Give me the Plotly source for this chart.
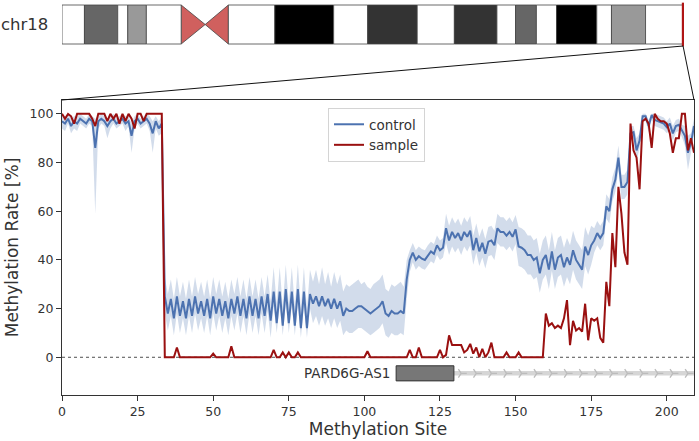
import plotly.graph_objects as go

# methylation window: one value per CpG site
site = list(range(210))

control_mean = [
    97, 96, 98, 95, 97, 96, 98, 97, 96, 98,
    97, 86, 97, 98, 97, 95, 97, 98, 96, 97,
    98, 96, 97, 91, 97, 98, 96, 97, 98, 96,
    92, 97, 94, 96, 25, 18, 24, 16, 25, 17,
    23, 16, 24, 17, 25, 18, 23, 17, 24, 16,
    25, 18, 24, 17, 23, 16, 24, 18, 25, 17,
    24, 16, 25, 17, 24, 16, 25, 17, 26, 15,
    27, 14, 27, 13, 28, 14, 27, 13, 28, 12,
    27, 12, 26, 22, 25, 21, 25, 21, 24, 20,
    24, 20, 23, 17, 20, 19, 19, 20, 21, 21,
    20, 19, 18, 19, 20, 21, 23, 18, 17, 19,
    18, 18, 19, 18, 32, 40, 43, 40, 41.5, 40.5,
    40, 42, 43.5, 42.5, 46, 44, 45, 53, 48, 51.5,
    49, 51, 48, 51.5, 49.5, 52, 44, 49, 43.5, 47,
    42.5, 47.5, 48, 46, 53, 51.5, 51.5, 50, 51.5, 49.5,
    52.5, 45.5, 45, 44, 42, 42, 40, 41, 34.5, 40,
    42, 36, 43.5, 36, 41, 42, 37, 41, 38, 44,
    40, 38, 36, 45.5, 42, 46, 48, 51, 49, 51,
    62, 60, 69, 73, 82, 70, 70, 72, 92, 92.5,
    85, 89, 99, 99, 95, 99.5, 97.5, 97, 96.5, 96,
    94.5, 96, 92, 95, 95.5, 93, 91, 84, 88, 95,
]

control_lo = [
    94, 93, 96, 92, 94, 93, 96, 95, 94, 96,
    95, 59, 94, 96, 95, 90, 94, 96, 94, 95,
    96, 93, 95, 84, 94, 96, 94, 95, 96, 93,
    84, 94, 91, 92, 18, 11, 17, 9, 18, 10,
    16, 9, 17, 10, 18, 11, 16, 10, 17, 9,
    18, 11, 17, 10, 16, 9, 17, 11, 18, 10,
    17, 9, 18, 10, 17, 9, 18, 10, 19, 8,
    21, 10, 21, 9, 22, 10, 21, 9, 22, 8,
    21, 8, 20, 14, 17, 13, 17, 13, 16, 12,
    16, 12, 15, 9, 11, 10, 10, 11, 12, 12,
    11, 10, 9, 10, 11, 12, 14, 9, 8, 10,
    9, 9, 10, 9, 24, 35, 39, 36, 37.5, 36.5,
    36, 38, 39.5, 38.5, 42, 40, 41, 47, 42, 45.5,
    43, 45, 42, 45.5, 43.5, 46, 38, 43, 37.5, 41,
    36.5, 41.5, 42, 40, 47, 45.5, 45.5, 44, 45.5, 43.5,
    46.5, 37.5, 37, 36, 34, 34, 32, 33, 26.5, 32,
    34, 28, 35.5, 28, 33, 34, 29, 33, 30, 36,
    32, 30, 28, 37.5, 34, 38, 43, 46, 44, 46,
    57, 55, 64, 68, 77, 65, 65, 67, 89, 90,
    80, 86, 97, 97, 92.5, 97.5, 95, 94.5, 94, 93.5,
    92, 93.5, 89, 92.5, 93, 90.5, 87, 77, 84, 92,
]

control_hi = [
    99, 99, 100, 98, 99, 99, 100, 99, 98, 100,
    99, 98, 99, 100, 99, 98, 99, 100, 98, 99,
    100, 99, 99, 96, 99, 100, 98, 99, 100, 99,
    97, 99, 97, 99, 33, 26, 32, 24, 33, 25,
    31, 24, 32, 25, 33, 26, 31, 25, 32, 24,
    33, 26, 32, 25, 31, 24, 32, 26, 33, 25,
    32, 24, 33, 25, 32, 24, 33, 25, 34, 23,
    37, 22, 37, 21, 38, 22, 37, 21, 38, 20,
    37, 20, 36, 31, 36, 30, 37, 30, 35, 29,
    35, 30, 34, 27, 30, 29, 30, 31, 32, 30,
    31, 29, 28, 30, 31, 32, 34, 28, 27, 30,
    29, 30, 31, 29, 40, 44, 47, 44, 45.5, 44.5,
    44, 46, 47.5, 46.5, 50, 48, 49, 59, 54, 57.5,
    55, 57, 54, 57.5, 55.5, 58, 50, 55, 49.5, 53,
    48.5, 53.5, 54, 52, 59, 57.5, 57.5, 56, 57.5, 55.5,
    58.5, 53.5, 53, 52, 50, 50, 48, 49, 42.5, 48,
    50, 44, 51.5, 44, 49, 50, 45, 49, 46, 52,
    48, 46, 44, 53.5, 50, 54, 53, 56, 54, 56,
    67, 65, 74, 78, 87, 75, 75, 77, 95, 95,
    90, 92, 100, 100, 97.5, 100, 100, 99.5, 99, 98.5,
    97, 98.5, 95, 97.5, 98, 95.5, 95, 91, 92, 98,
]

sample = [
    100, 98, 100, 99, 96, 100, 100, 100, 100, 100,
    98, 95, 100, 100, 100, 97, 100, 98, 100, 96,
    100, 97, 100, 98, 94, 100, 100, 97, 100, 100,
    100, 100, 100, 100, 0, 0, 0, 0, 4, 0,
    0, 0, 0, 0, 0, 0, 0, 0, 0, 0,
    1.5, 0, 0, 0, 0, 0, 4.5, 0, 0, 0,
    0, 0, 0, 0, 0, 0, 0, 0, 0, 0,
    3, 0, 0, 2, 0, 2, 0, 0, 2, 0,
    0, 0, 0, 0, 0, 0, 0, 0, 0, 0,
    0, 0, 0, 0, 0, 0, 0, 0, 0, 0,
    0, 2.5, 0, 0, 0, 0, 0, 0, 0, 0,
    0, 0, 0, 0, 0, 3, 0, 0, 4, 0,
    0, 0, 0, 0, 0, 3, 0, 1, 9, 5,
    5, 5, 5, 2, 3, 5.5, 1.5, 4, 0, 3.5,
    0, 2, 6, 0, 0, 0, 0, 2, 0, 0,
    0, 2, 0, 0, 0, 0, 0, 0, 0, 0,
    18, 13, 14, 12, 13, 12, 16, 23.5, 5, 15,
    11, 12, 10.5, 22, 7, 16, 15, 16, 8, 6,
    31, 21, 51, 37, 70, 59, 43, 38, 96, 85,
    82, 69, 97, 98, 96, 86, 100, 98, 97, 97,
    96, 92, 84, 90, 90, 100, 100, 85, 90, 84,
]

# gene track
gene_name = "PARD6G-AS1"
gene_start = 110.5
gene_end = 129.6
gene_y = -6.6
gene_arrows = list(range(132, 210, 5))

# chr18 ideogram (Mb)
chrom = "chr18"
chrom_len = 80.37
band_start = [0, 2.9, 7.2, 8.5, 10.9, 15.4, 18.5, 21.5, 27.5, 35.1,
              39.5, 45.9, 50.7, 56.2, 58.6, 61.3, 63.9, 69.1, 71.0, 75.4]
band_end = [2.9, 7.2, 8.5, 10.9, 15.4, 18.5, 21.5, 27.5, 35.1, 39.5,
            45.9, 50.7, 56.2, 58.6, 61.3, 63.9, 69.1, 71.0, 75.4, 80.37]
band_stain = ["gneg", "gpos50", "gneg", "gpos25", "gneg", "acen", "acen", "gneg", "gpos100", "gneg",
              "gpos75", "gneg", "gpos75", "gneg", "gpos50", "gneg", "gpos100", "gneg", "gpos25", "gneg"]
region_pos = 80.25

stain_color = {"gneg": "#ffffff", "gpos25": "#999999", "gpos50": "#666666",
               "gpos75": "#333333", "gpos100": "#000000", "acen": "#d0605e"}

W, H = 699, 441
main_x = [62 / W, 694 / W]
main_y = [(H - 395) / H, (H - 100) / H]
ideo_x = [62 / W, 684 / W]
ideo_y = [(H - 47) / H, (H - 2) / H]

font = "DejaVu Sans"
blue = "#4C72B0"
red = "#9a1010"

fig = go.Figure()

# control confidence band
fig.add_trace(go.Scatter(x=site, y=control_lo, mode="lines", line=dict(width=0),
                         showlegend=False, hoverinfo="skip"))
fig.add_trace(go.Scatter(x=site, y=control_hi, mode="lines", line=dict(width=0),
                         fill="tonexty", fillcolor="rgba(76,114,176,0.25)",
                         showlegend=False, hoverinfo="skip"))
fig.add_trace(go.Scatter(x=site, y=control_mean, mode="lines", name="control",
                         line=dict(color=blue, width=2)))
fig.add_trace(go.Scatter(x=site, y=sample, mode="lines", name="sample",
                         line=dict(color=red, width=2)))

# gene body line + direction chevrons
fig.add_trace(go.Scatter(x=[gene_end, 215], y=[gene_y, gene_y], mode="lines",
                         line=dict(color="#d6d6d6", width=4.5), showlegend=False, hoverinfo="skip"))
fig.add_trace(go.Scatter(x=gene_arrows, y=[gene_y] * len(gene_arrows), mode="markers",
                         marker=dict(symbol="y-right", size=7, line=dict(color="#bcbcbc", width=1.3)),
                         showlegend=False, hoverinfo="skip", cliponaxis=True))
fig.add_shape(type="rect", xref="x", yref="y", x0=gene_start, x1=gene_end,
              y0=gene_y - 3.1, y1=gene_y + 3.1, fillcolor="#777777",
              line=dict(color="#333333", width=1))
fig.add_annotation(x=gene_start - 1.5, y=gene_y, xref="x", yref="y", text=gene_name,
                   showarrow=False, xanchor="right", font=dict(family=font, size=13.5, color="#333333"))

# zero reference line
fig.add_shape(type="line", xref="x domain", yref="y", x0=0, x1=1, y0=0, y1=0,
              line=dict(color="#222222", width=0.8, dash="dot"), layer="below")

# ideogram bands
for s, e, st in zip(band_start, band_end, band_stain):
    if st == "acen":
        continue
    fig.add_shape(type="rect", xref="x2", yref="y2", x0=s, x1=e, y0=0, y1=1,
                  fillcolor=stain_color[st], line=dict(color="#444444", width=0.8))
acen = [(s, e) for s, e, st in zip(band_start, band_end, band_stain) if st == "acen"]
(p_s, p_e), (q_s, q_e) = acen
fig.add_trace(go.Scatter(x=[p_s, p_s, p_e, p_s], y=[0, 1, 0.5, 0], xaxis="x2", yaxis="y2",
                         mode="lines", fill="toself", fillcolor=stain_color["acen"],
                         line=dict(color="#444444", width=0.8), showlegend=False, hoverinfo="skip"))
fig.add_trace(go.Scatter(x=[q_e, q_e, q_s, q_e], y=[0, 1, 0.5, 0], xaxis="x2", yaxis="y2",
                         mode="lines", fill="toself", fillcolor=stain_color["acen"],
                         line=dict(color="#444444", width=0.8), showlegend=False, hoverinfo="skip"))
fig.add_shape(type="line", xref="x2", yref="y2", x0=region_pos, x1=region_pos, y0=-0.06, y1=1.06,
              line=dict(color="#b01515", width=2.5))

# zoom lines from region mark to main panel
mx = ideo_x[0] + region_pos / chrom_len * (ideo_x[1] - ideo_x[0])
my = (H - 46) / H
for px in main_x:
    fig.add_shape(type="line", xref="paper", yref="paper", x0=mx, y0=my, x1=px, y1=main_y[1],
                  line=dict(color="#111111", width=1))

fig.add_annotation(x=50 / W, y=(ideo_y[0] + ideo_y[1]) / 2, xref="paper", yref="paper",
                   text=chrom, showarrow=False, xanchor="right", yanchor="middle",
                   font=dict(family=font, size=16.5, color="#333333"))

axis_common = dict(showgrid=False, zeroline=False, showline=True, linecolor="#333333",
                   linewidth=1.2, mirror=True, ticks="outside", ticklen=5, tickcolor="#333333",
                   tickfont=dict(family=font, size=12.5, color="#333333"), automargin=False)

fig.update_layout(
    width=W, height=H,
    margin=dict(l=0, r=0, t=0, b=0),
    paper_bgcolor="white", plot_bgcolor="white",
    font=dict(family=font, color="#333333"),
    xaxis=dict(domain=main_x, range=[0, 209], tickvals=[0, 25, 50, 75, 100, 125, 150, 175, 200],
               title=dict(text="Methylation Site", font=dict(family=font, size=17, color="#333333"),
                          standoff=4),
               anchor="y", **axis_common),
    yaxis=dict(domain=main_y, range=[-15.5, 105.7], tickvals=[0, 20, 40, 60, 80, 100],
               title=dict(text="Methylation Rate [%]", font=dict(family=font, size=17, color="#333333"),
                          standoff=6),
               anchor="x", **axis_common),
    xaxis2=dict(domain=ideo_x, range=[0, chrom_len], visible=False, anchor="y2"),
    yaxis2=dict(domain=ideo_y, range=[-0.077, 1.077], visible=False, anchor="x2"),
    legend=dict(x=328 / W, y=(H - 108) / H, xanchor="left", yanchor="top", traceorder="normal",
                bgcolor="white", bordercolor="#d4d4d4", borderwidth=1,
                font=dict(family=font, size=13.5, color="#333333"), itemwidth=30),
    showlegend=True,
)

fig.write_html("out.html", config={"displayModeBar": False},
               post_script="document.body.style.margin='0';")
